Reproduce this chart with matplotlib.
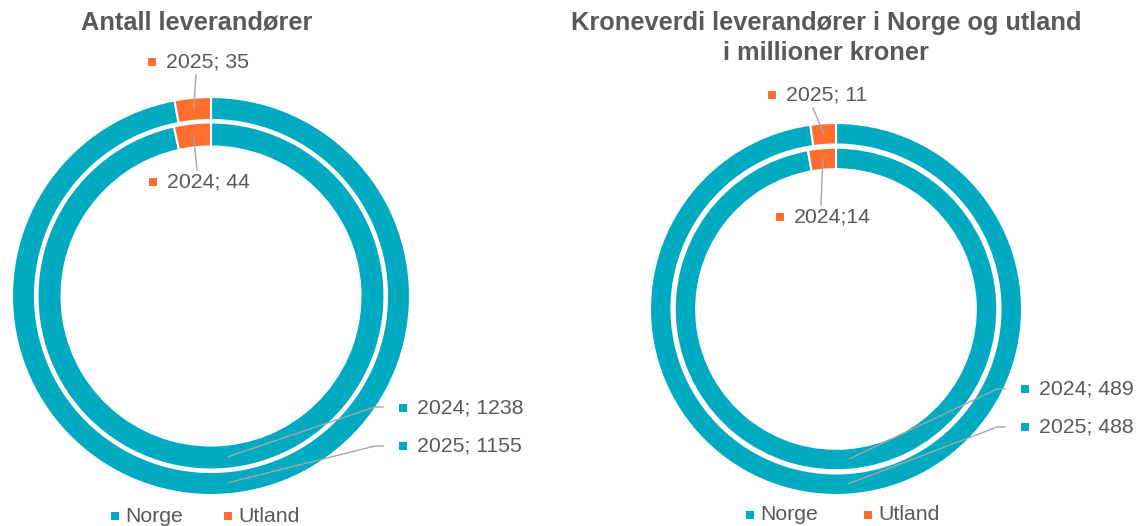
import numpy as np
import matplotlib.pyplot as plt

plt.rcParams['font.family'] = ['Liberation Sans', 'DejaVu Sans']

# data
categories = ['Norge', 'Utland']
antall_2024 = [1238, 44]
antall_2025 = [1155, 35]
krone_2024 = [489, 14]
krone_2025 = [488, 11]

teal = '#00ABC2'
orange = '#FF6D2F'
grey_txt = '#595959'
grey_line = '#A6A6A6'

W, H = 1136, 526

fig = plt.figure(figsize=(W / 100, H / 100), dpi=100)
ax = fig.add_axes([0, 0, 1, 1])


def ring(vals, cx, cy, r, w):
    wedges, _ = ax.pie(vals, radius=r, center=(cx, H - cy), startangle=90,
                       counterclock=False, colors=[teal, orange],
                       wedgeprops=dict(width=w, edgecolor='white', linewidth=1.5))
    return wedges


def anchor(wedge):
    # middle of the wedge, used as start of the leader line
    a = np.deg2rad((wedge.theta1 + wedge.theta2) / 2)
    rm = wedge.r - wedge.width / 2
    return wedge.center[0] + rm * np.cos(a), wedge.center[1] + rm * np.sin(a)


def label(wedge, text, color, mx, my, pts):
    x0, y0 = anchor(wedge)
    xs = [x0] + [p[0] for p in pts]
    ys = [y0] + [H - p[1] for p in pts]
    ax.plot(xs, ys, color=grey_line, lw=1, zorder=5)
    ax.plot(mx, H - my, marker='s', ms=5.5, color=color, mew=0, ls='none')
    ax.text(mx + 14, H - my, text, fontsize=15.3, color=grey_txt, va='center', ha='left')


# venstre: antall leverandører
out_l = ring(antall_2025, 211, 296, 199, 23)
inn_l = ring(antall_2024, 211, 296, 173.5, 24)
label(out_l[1], '2025; %d' % antall_2025[1], orange, 152, 62, [(196, 75)])
label(inn_l[1], '2024; %d' % antall_2024[1], orange, 153, 182, [(197, 170)])
label(inn_l[0], '2024; %d' % antall_2024[0], teal, 403, 408, [(375, 407), (383, 407)])
label(out_l[0], '2025; %d' % antall_2025[0], teal, 403, 446, [(375, 446), (383, 446)])

# høyre: kroneverdi
out_r = ring(krone_2025, 836, 309, 186, 21.5)
inn_r = ring(krone_2024, 836, 309, 161.3, 21.5)
label(out_r[1], '2025; %d' % krone_2025[1], orange, 772, 95, [(813, 108)])
label(inn_r[1], '2024;%d' % krone_2024[1], orange, 780, 217, [(821, 205)])
label(inn_r[0], '2024; %d' % krone_2024[0], teal, 1025, 389, [(997, 389), (1005, 389)])
label(out_r[0], '2025; %d' % krone_2025[0], teal, 1025, 427, [(997, 427), (1005, 427)])

# titler
ax.text(197, H - 22, 'Antall leverandører', fontsize=18.3, fontweight='bold',
        color=grey_txt, ha='center', va='center')
ax.text(826, H - 38, 'Kroneverdi leverandører i Norge og utland\ni millioner kroner',
        fontsize=18.3, fontweight='bold', color=grey_txt, ha='center', va='center',
        linespacing=1.3)

# legender
for lx, ly in [(115, 516), (750, 515)]:
    for i, (cat, col) in enumerate(zip(categories, [teal, orange])):
        x = lx + i * 113 + (i * 5 if lx > 500 else 0)
        ax.plot(x, H - ly, marker='s', ms=5.5, color=col, mew=0, ls='none')
        ax.text(x + 10, H - ly, cat, fontsize=15.3, color=grey_txt, va='center', ha='left')

ax.set_xlim(0, W)
ax.set_ylim(0, H)
ax.set_aspect('equal')
ax.axis('off')

fig.savefig('out.png', dpi=100)
